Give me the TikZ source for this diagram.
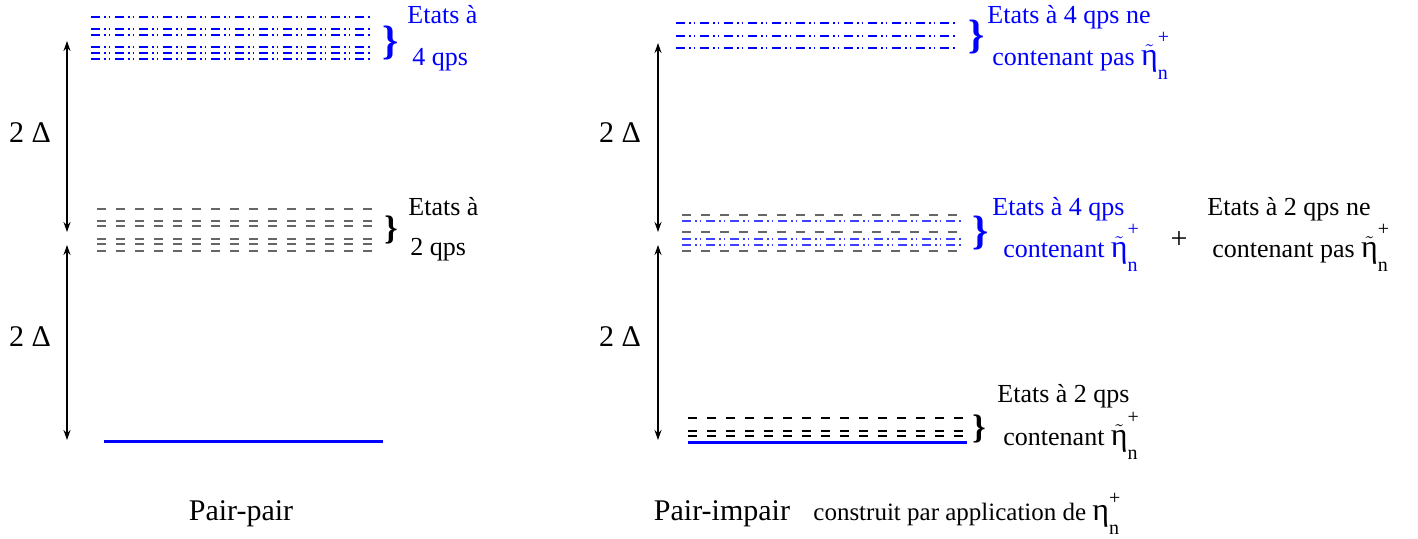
\documentclass[tikz,border=0pt]{standalone}
\usepackage{fontspec}
\usepackage{amsmath}
\setmainfont{Liberation Serif}
\usetikzlibrary{arrows.meta, positioning}

\tikzset{
  twoqp/.style={black!60, line width=0.6pt, dash pattern=on 4.5pt off 5pt},
  twoqpdark/.style={black, line width=0.6pt, dash pattern=on 4.5pt off 5pt},
  fourqp/.style={blue, line width=0.6pt,
    dash pattern=on 4.5pt off 2pt on 0.75pt off 1.5pt on 0.75pt off 2.5pt},
  ground/.style={blue, line width=1.5pt},
  gap/.style={{Stealth[length=5pt,width=3.5pt]}-{Stealth[length=5pt,width=3.5pt]}, line width=0.6pt},
  lbl/.style={font=\fontsize{13}{15}\selectfont, inner sep=0pt, anchor=base west},
  note/.style={font=\fontsize{12.5}{14}\selectfont, inner sep=0pt, anchor=base west},
  big/.style={font=\fontsize{15}{17}\selectfont, inner sep=0pt},
  brace/.style={font=\fontsize{#1}{#1}\selectfont\bfseries, inner sep=0pt},
}
% eta operator, upright, with raised + and lowered n
\newcommand{\etaop}[1]{$#1{\text{\fontsize{16}{16}\selectfont η}}%
  ^{\raisebox{0.6ex}{\fontsize{10}{10}\selectfont +}}%
  _{\raisebox{-0.6ex}{\fontsize{10}{10}\selectfont n}}$}
\newcommand{\etan}{\etaop{\tilde}}

\begin{document}
\begin{tikzpicture}[x=0.5pt, y=-0.5pt]
  \useasboundingbox (0,0) rectangle (1418,538);
  % Pair-pair levels
  \foreach \y in {17,29,35,47,53,59}
    \draw[fourqp] (91,\y) -- (372,\y);
  \foreach \y in {209,221,226,239,244,251}
    \draw[twoqp] (97,\y) -- (372,\y);
  \draw[ground] (104,441) -- (383,441);
  % Pair-impair levels
  \foreach \y in {23,36,48}
    \draw[fourqp] (676,\y) -- (957,\y);
  \foreach \y in {215,232,251}
    \draw[twoqp] (682,\y) -- (962,\y);
  \foreach \y in {221,239,245}
    \draw[fourqp, blue!75] (682,\y) -- (962,\y);
  \foreach \y in {418,431,436}
    \draw[twoqpdark] (688,\y) -- (967,\y);
  \draw[ground] (688,442) -- (967,442);

  % gap arrows
  \coordinate (lTop) at (67,41);
  \coordinate (lMidA) at (67,232);
  \coordinate (lMidB) at (67,245);
  \coordinate (lBot) at (67,440);
  \coordinate (rTop) at (658,43);
  \coordinate (rMidA) at (658,232);
  \coordinate (rMidB) at (658,245);
  \coordinate (rBot) at (658,440);
  \draw[gap] (lTop) -- (lMidA);
  \draw[gap] (lMidB) -- (lBot);
  \draw[gap] (rTop) -- (rMidA);
  \draw[gap] (rMidB) -- (rBot);
  \node[big] (lGapA) at (30,133) {2 Δ};
  \node[big] (lGapB) at (30,337) {2 Δ};
  \node[big] (rGapA) at (620,133) {2 Δ};
  \node[big] (rGapB) at (620,337) {2 Δ};

  % Pair-pair labels
  \node[brace=20.5, blue] (lBraceA) at (391,43) {\}};
  \node[lbl, blue] (lFourA) at (407,23) {Etats à};
  \node[lbl, blue] (lFourB) at (412,65) {4 qps};
  \node[brace=17] (lBraceB) at (391,230) {\}};
  \node[lbl] (lTwoA) at (408,215) {Etats à};
  \node[lbl] (lTwoB) at (410,255) {2 qps};

  % Pair-impair labels
  \node[brace=20.5, blue] (rBraceA) at (977,37) {\}};
  \node[lbl, blue] (rFourA) at (987,23) {Etats à 4 qps ne};
  \node[lbl, blue] (rFourB) at (992,65) {contenant pas~\etan};
  \node[brace=20.5, blue] (rBraceB) at (981,233) {\}};
  \node[lbl, blue] (rMixA) at (992,215) {Etats à 4 qps};
  \node[lbl, blue] (rMixB) at (1003,257) {contenant~\etan};
  \node[big] (rPlus) at (1179,240) {+};
  \node[lbl] (rMixC) at (1207,215) {Etats à 2 qps ne};
  \node[lbl] (rMixD) at (1212,257) {contenant pas~\etan};
  \node[brace=17] (rBraceC) at (979,429) {\}};
  \node[lbl] (rTwoA) at (997,402) {Etats à 2 qps};
  \node[lbl] (rTwoB) at (1003,445) {contenant~\etan};

  % titles
  \node[big, anchor=base] (lTitle) at (241,520) {Pair-pair};
  \node[big, anchor=base] (rTitle) at (722,520) {Pair-impair};
  \node[note] (rNote) at (813,520) {construit par application de~\etaop{}};
\end{tikzpicture}
\end{document}
